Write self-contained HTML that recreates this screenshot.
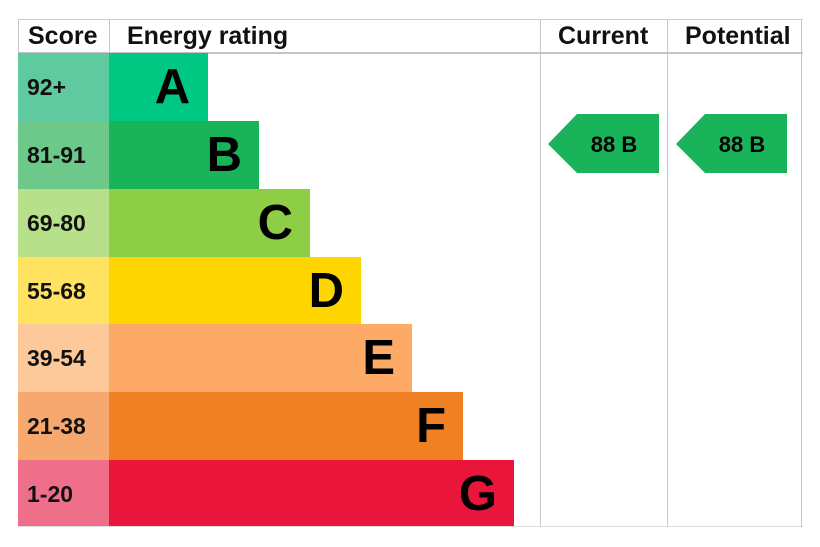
<!DOCTYPE html>
<html><head><style>
body{margin:0;width:820px;height:547px;background:#fff;font-family:"Liberation Sans",Arial,sans-serif;position:relative;overflow:hidden}
div{position:absolute;box-sizing:border-box}
.h{top:20px;height:32px;font-weight:bold;font-size:25px;line-height:33px;color:#111}
.s{left:18px;width:91px;height:68px;font-weight:bold;font-size:23px;line-height:68px;padding-left:9px;color:#111}
.b{left:109px;height:68px;font-weight:bold;font-size:49px;line-height:68px;text-align:right;padding-right:17px;color:#000}
.v{width:1px;background:#c8c8c8}
</style></head><body>
<div style="left:18px;top:19px;width:785px;height:1px;background:#ccc"></div>
<div style="left:18px;top:52px;width:785px;height:2px;background:#c4c4c4"></div>
<div style="left:18px;top:526px;width:785px;height:1px;background:#ddd"></div>
<div class="v" style="left:18px;top:19px;height:34px"></div>
<div class="v" style="left:109px;top:19px;height:34px"></div>
<div class="v" style="left:540px;top:19px;height:508px"></div>
<div class="v" style="left:667px;top:19px;height:508px"></div>
<div class="v" style="left:801px;top:19px;height:508px"></div>
<div class="h" style="left:28px">Score</div>
<div class="h" style="left:127px">Energy rating</div>
<div class="h" style="left:558px">Current</div>
<div class="h" style="left:685px">Potential</div>

<div class="s" style="top:53px;background:#5fc9a0">92+</div>
<div class="b" style="top:53px;width:99px;background:#00c781;text-align:center;padding:0 0 0 28px">A</div>
<div class="s" style="top:121px;background:#6cc98a">81-91</div>
<div class="b" style="top:121px;width:150px;background:#19b459">B</div>
<div class="s" style="top:189px;background:#b6e08a">69-80</div>
<div class="b" style="top:189px;width:201px;background:#8dce46">C</div>
<div class="s" style="top:257px;background:#ffe360">55-68</div>
<div class="b" style="top:257px;width:252px;background:#ffd500">D</div>
<div class="s" style="top:324px;background:#fdc99a">39-54</div>
<div class="b" style="top:324px;width:303px;background:#fcaa65">E</div>
<div class="s" style="top:392px;background:#f6a86e">21-38</div>
<div class="b" style="top:392px;width:354px;background:#ef8023">F</div>
<div class="s" style="top:460px;height:66px;background:#ef6f8a">1-20</div>
<div class="b" style="top:460px;height:66px;width:405px;background:#e9153b">G</div>

<svg style="position:absolute;left:0;top:0" width="820" height="547">
<polygon points="548,144 577,114 659,114 659,173 577,173" fill="#19b459"/>
<polygon points="676,144 705,114 787,114 787,173 705,173" fill="#19b459"/>
<text x="614" y="152" font-family="Liberation Sans" font-weight="bold" font-size="22" text-anchor="middle" fill="#000">88 B</text>
<text x="742" y="152" font-family="Liberation Sans" font-weight="bold" font-size="22" text-anchor="middle" fill="#000">88 B</text>
</svg>
</body></html>
